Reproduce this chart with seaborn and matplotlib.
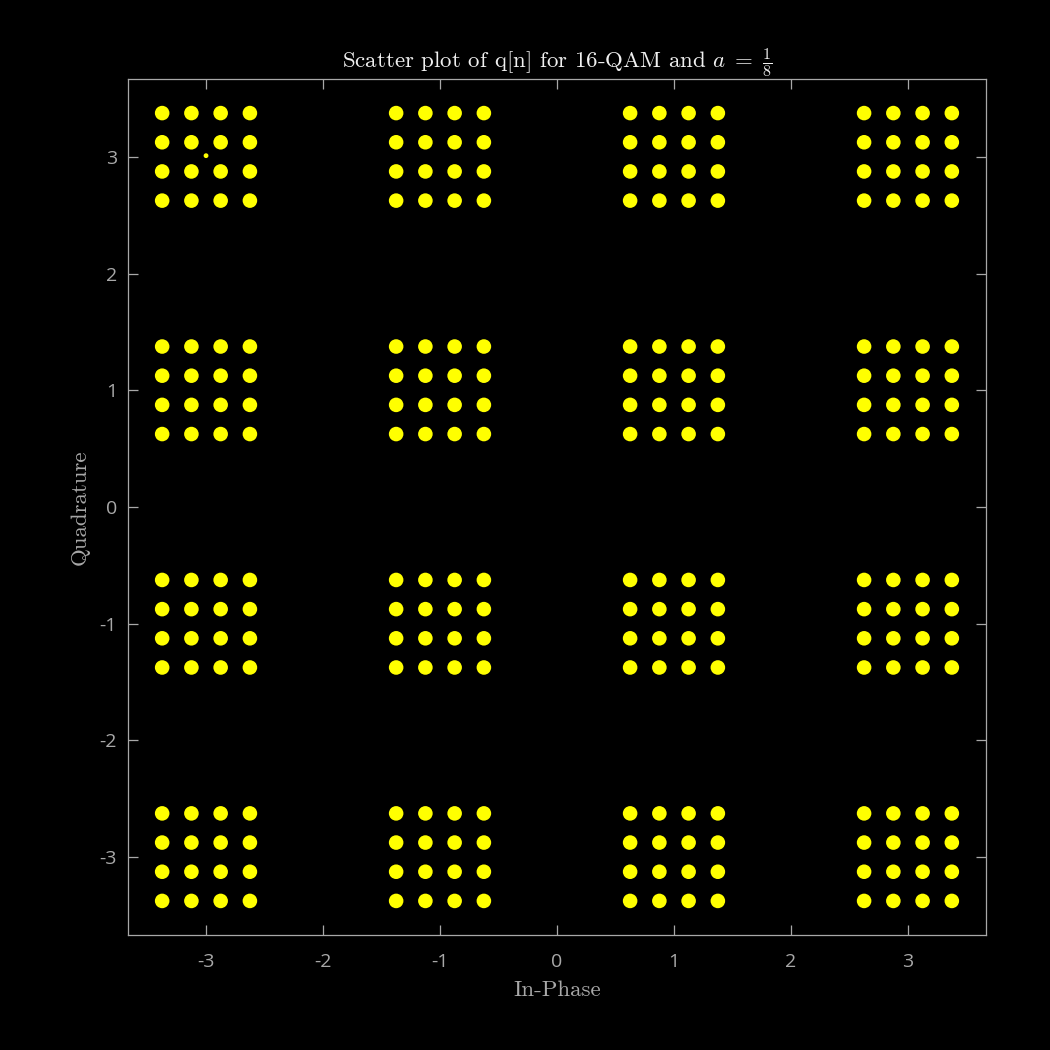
import numpy as np
import pandas as pd
import matplotlib
matplotlib.use('Agg')
import matplotlib.pyplot as plt
import seaborn as sns

# 16-QAM levels for the coarse and fine constellation (a = 1/8)
levels = [-3.375, -3.125, -2.875, -2.625,
          -1.375, -1.125, -0.875, -0.625,
          0.625, 0.875, 1.125, 1.375,
          2.625, 2.875, 3.125, 3.375]
stray_i = [-3.0]
stray_q = [3.01]
ticks = [-3, -2, -1, 0, 1, 2, 3]
tick_labels = ['-3', '-2', '-1', '0', '1', '2', '3']

grid_i, grid_q = np.meshgrid(levels, levels)
df = pd.DataFrame({'I': grid_i.ravel(), 'Q': grid_q.ravel()})
df_stray = pd.DataFrame({'I': stray_i, 'Q': stray_q})

sns.set_style('dark')
plt.rcParams['font.family'] = ['Open Sans', 'DejaVu Sans']
plt.rcParams['mathtext.fontset'] = 'cm'
plt.rcParams['axes.unicode_minus'] = False

fig, ax = plt.subplots(figsize=(10.5, 10.5), dpi=100)
fig.patch.set_facecolor('black')
ax.set_facecolor('black')
fig.subplots_adjust(left=128/1050, right=986/1050, bottom=1-935/1050, top=1-79/1050)

sns.scatterplot(data=df, x='I', y='Q', s=110, color='#ffff00', edgecolor='none', ax=ax)
sns.scatterplot(data=df_stray, x='I', y='Q', s=12, color='#ffff00', edgecolor='none', ax=ax)

lim = 3.667
ax.set_xlim(-lim, lim)
ax.set_ylim(-lim, lim)
ax.set_xticks(ticks)
ax.set_xticklabels(tick_labels)
ax.set_yticks(ticks)
ax.set_yticklabels(tick_labels)
ax.grid(False)

for sp in ax.spines.values():
    sp.set_visible(True)
    sp.set_color('#a8a8a8')
    sp.set_linewidth(0.9)
ax.tick_params(direction='in', length=7, width=0.9, color='#a8a8a8', labelcolor='#a8a8a8',
               labelsize=14, top=True, right=True, bottom=True, left=True)
ax.tick_params(axis='x', pad=13)
ax.tick_params(axis='y', pad=8)

ax.set_xlabel('In-Phase', fontname='cmr10', fontsize=16.5, color='#a8a8a8', labelpad=7)
ax.set_ylabel('Quadrature', fontname='cmr10', fontsize=16.5, color='#a8a8a8', labelpad=7)
ax.set_title(r'Scatter plot of q[n] for 16-QAM and $a\;=\;\frac{1}{8}$',
             fontname='cmr10', fontsize=16.5, color='#f0f0f0', pad=8)

plt.savefig('out.png', dpi=100, facecolor='black')
